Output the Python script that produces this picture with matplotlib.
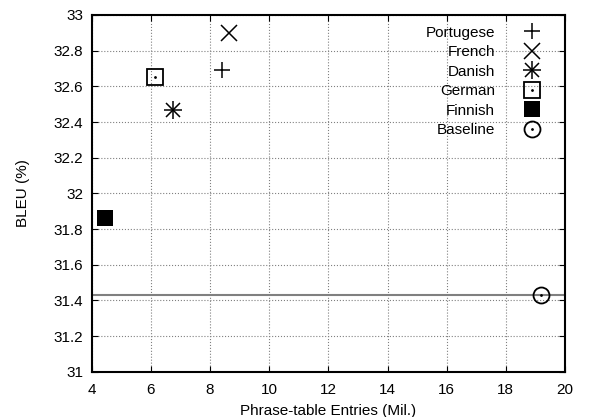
import matplotlib
matplotlib.use('Agg')
from matplotlib import pyplot as plt
from matplotlib.lines import Line2D

plt.rcParams['font.family'] = ['Liberation Sans', 'DejaVu Sans']

# phrase-table size (millions) vs BLEU for each pivot language
languages = ['Portugese', 'French', 'Danish', 'German', 'Finnish', 'Baseline']
entries = [8.4, 8.65, 6.75, 6.15, 4.45, 19.2]
bleu = [32.69, 32.90, 32.47, 32.65, 31.86, 31.43]
baseline_bleu = 31.43


def marker_lines(name):
    # gnuplot-like point types, built from matplotlib markers
    if name == 'Portugese':
        return [dict(marker='+', ms=11.5, mew=1.1, color='black')]
    if name == 'French':
        return [dict(marker='x', ms=11.5, mew=1.1, color='black')]
    if name == 'Danish':
        return [dict(marker='+', ms=12.5, mew=1.1, color='black'),
                dict(marker='x', ms=10, mew=1.1, color='black')]
    if name == 'German':
        return [dict(marker='s', ms=11, mew=1.3, mfc='none', mec='black'),
                dict(marker='.', ms=2, color='black')]
    if name == 'Finnish':
        return [dict(marker='s', ms=11.5, mew=0, color='black')]
    return [dict(marker='o', ms=11.5, mew=1.3, mfc='none', mec='black'),
            dict(marker='.', ms=2, color='black')]


fig = plt.figure(figsize=(5.93, 4.17), dpi=100)
ax = fig.add_axes([91.7 / 593, 1 - 371.7 / 417, (565 - 91.7) / 593, (371.7 - 15) / 417])

ax.axhline(baseline_bleu, color='gray', lw=1.5, zorder=2)

handles = []
for i in range(len(languages)):
    parts = []
    for kw in marker_lines(languages[i]):
        ax.plot(entries[i], bleu[i], ls='none', zorder=3, **kw)
        parts.append(Line2D([], [], ls='none', **kw))
    handles.append(tuple(parts))

ax.set_xlim(4, 20)
ax.set_ylim(31, 33)
ax.set_xticks(range(4, 21, 2))
ax.set_yticks([31 + 0.2 * k for k in range(11)])
ax.set_yticklabels(['31', '31.2', '31.4', '31.6', '31.8', '32', '32.2', '32.4', '32.6', '32.8', '33'])
ax.grid(True, ls=':', color='gray', lw=0.8)
ax.tick_params(direction='in', top=True, right=True, labelsize=11, length=4)
ax.tick_params(axis='x', pad=8)
ax.tick_params(axis='y', pad=6)
for s in ax.spines.values():
    s.set_linewidth(1.5)

ax.set_xlabel('Phrase-table Entries (Mil.)', fontsize=11, labelpad=5)
ax.set_ylabel('BLEU (%)', fontsize=11, labelpad=17)

ax.legend(handles, languages, loc='upper right', bbox_to_anchor=(0.962, 0.97),
          markerfirst=False, frameon=False, fontsize=11, handlelength=2.0,
          handletextpad=1.4, labelspacing=0.36, borderpad=0, borderaxespad=0)

fig.savefig('out.png', dpi=100)
